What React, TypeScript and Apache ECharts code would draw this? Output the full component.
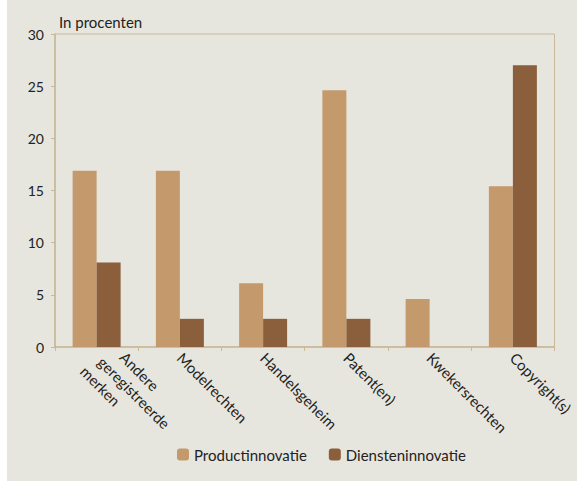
import React, { useEffect, useRef } from "react";
import * as echarts from "echarts";

const categories = [
  "Andere\ngeregistreerde\nmerken",
  "Modelrechten",
  "Handelsgeheim",
  "Patent(en)",
  "Kwekersrechten",
  "Copyright(s)",
];
const productinnovatie = [16.9, 16.9, 6.1, 24.6, 4.6, 15.4];
const diensteninnovatie = [8.1, 2.7, 2.7, 2.7, 0, 27.0];
const yTicks = { min: 0, max: 30, interval: 5 };

const FONT = "Lato, 'Open Sans', sans-serif";
const LINE = "#C9B999";

const lineStyles = ["l0", "l1", "l2"];

function formatLabel(value: string) {
  const parts = value.split("\n");
  if (parts.length === 1) return value;
  return parts.map((p, i) => `{${lineStyles[i] || "l2"}|${p}}`).join("\n");
}

export default function App() {
  const ref = useRef<HTMLDivElement>(null);
  useEffect(() => {
    const chart = echarts.init(ref.current!, undefined, { renderer: "svg" });
    const richBase = { fontSize: 15, color: "#222", fontFamily: FONT, lineHeight: 19 };
    chart.setOption({
      animation: false,
      backgroundColor: "#E7E6DE",
      textStyle: { fontFamily: FONT },
      title: {
        text: "In procenten",
        left: 47,
        top: 9,
        textStyle: { fontSize: 15, fontWeight: "normal", color: "#222", fontFamily: FONT },
      },
      grid: {
        left: 48,
        right: 18,
        top: 34,
        bottom: 134,
        show: true,
        borderColor: LINE,
        borderWidth: 1,
        backgroundColor: "transparent",
      },
      legend: {
        bottom: 14,
        left: 165,
        itemWidth: 12,
        itemHeight: 12,
        itemGap: 22,
        textStyle: { fontSize: 15, color: "#222", fontFamily: FONT },
        data: ["Productinnovatie", "Diensteninnovatie"],
      },
      xAxis: {
        type: "category",
        data: categories,
        axisLine: { lineStyle: { color: LINE, width: 1.5 } },
        axisTick: { show: true, length: 4, lineStyle: { color: LINE } },
        axisLabel: {
          rotate: -45,
          interval: 0,
          fontSize: 15,
          color: "#222",
          fontFamily: FONT,
          lineHeight: 19,
          margin: 8,
          formatter: formatLabel,
          rich: {
            l0: { ...richBase, padding: [0, 0, 0, 18] },
            l1: { ...richBase, padding: [0, 0, 0, 6] },
            l2: { ...richBase },
          },
        },
      },
      yAxis: {
        type: "value",
        min: yTicks.min,
        max: yTicks.max,
        interval: yTicks.interval,
        axisLine: { show: true, lineStyle: { color: LINE, width: 1.5 } },
        axisTick: { show: true, length: 4, lineStyle: { color: LINE } },
        splitLine: { show: false },
        axisLabel: { fontSize: 14, color: "#222", fontFamily: FONT, margin: 11 },
      },
      series: [
        {
          name: "Productinnovatie",
          type: "bar",
          data: productinnovatie,
          barWidth: 24,
          barGap: "0%",
          itemStyle: { color: "#C49A6C" },
        },
        {
          name: "Diensteninnovatie",
          type: "bar",
          data: diensteninnovatie,
          barWidth: 24,
          barGap: "0%",
          itemStyle: { color: "#8B5E3C" },
        },
      ],
    });
    return () => chart.dispose();
  }, []);
  return (
    <div style={{ position: "absolute", left: 7, top: 0, width: 570, height: 481 }}>
      <div ref={ref} style={{ width: 570, height: 481 }} />
    </div>
  );
}
